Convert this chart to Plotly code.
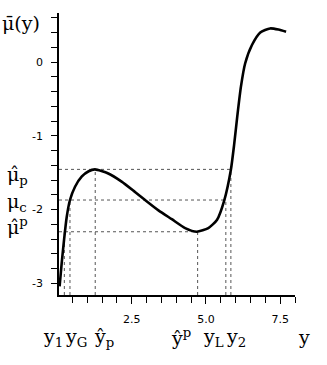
import plotly.graph_objects as go

# curve
curve_x = [0.07, 0.14, 0.22, 0.31, 0.42, 0.59, 0.82, 1.05, 1.26, 1.71, 2.16, 2.61, 2.95,
           3.40, 3.85, 4.30, 4.69, 5.08, 5.37, 5.62, 5.84, 5.95, 6.06, 6.18,
           6.32, 6.55, 6.83, 7.16, 7.44, 7.70]
curve_y = [-3.04, -2.73, -2.41, -2.10, -1.87, -1.69, -1.55, -1.48, -1.455, -1.51, -1.62,
           -1.76, -1.87, -2.01, -2.13, -2.25, -2.30, -2.25, -2.14, -1.87,
           -1.46, -1.12, -0.72, -0.33, -0.02, 0.23, 0.40, 0.455, 0.44, 0.41]

# levels and special y positions
level_names = ["μ̂<sub>p</sub>", "μ<sub>c</sub>", "μ̂<sup>p</sup>"]
level_vals = [-1.455, -1.87, -2.30]
pos_names = ["y<sub>1</sub>", "y<sub>G</sub>", "ŷ<sub>p</sub>", "ŷ<sup>p</sup>", "y<sub>L</sub>", "y<sub>2</sub>"]
pos_vals = [0.23, 0.42, 1.27, 4.72, 5.67, 5.84]
pos_level = [-2.30, -1.87, -1.455, -2.30, -1.87, -1.455]
# horizontal dashes: level -> x end
hline_end = [5.84, 5.67, 4.72]

y_ticks = [0, -1, -2, -3]
y_ticktext = ["0", "-1", "-2", "-3"]
x_ticks = [2.5, 5.0, 7.5]
x_ticktext = ["2.5", "5.0", "7.5"]

XR = [0.05, 8.0]
YR = [-3.157, 0.664]

fig = go.Figure()

hx, hy = [], []
for v, xe in zip(level_vals, hline_end):
    hx += [XR[0], xe, None]
    hy += [v, v, None]
for xv, lv in zip(pos_vals, pos_level):
    hx += [xv, xv, None]
    hy += [YR[0], lv, None]
fig.add_trace(go.Scatter(x=hx, y=hy, mode="lines",
                         line=dict(color="#555555", width=1, dash="3px,3px"),
                         hoverinfo="skip", showlegend=False))

fig.add_trace(go.Scatter(x=curve_x, y=curve_y, mode="lines",
                         line=dict(color="black", width=2.6, shape="spline", smoothing=0.6),
                         showlegend=False))

L, R, T, B = 59, 32, 13, 70
W, H = 327, 365
pw, ph = W - L - R, H - T - B

def px(xp):
    return (xp - L) / pw

def py(yp):
    return (H - B - yp) / ph

serif = dict(family="DejaVu Serif", size=19, color="black")
ann = []
ann.append(dict(text="μ̄(y)", x=px(0), y=py(23), xref="paper", yref="paper",
                xanchor="left", yanchor="middle", showarrow=False, font=serif))
for name, ypix in zip(level_names, [175, 202, 226]):
    ann.append(dict(text=name, x=px(5), y=py(ypix), xref="paper", yref="paper",
                    xanchor="left", yanchor="middle", showarrow=False, font=serif))
for name, xpix in zip(pos_names + ["y"], [41, 63, 92, 169, 201, 224, 296]):
    ann.append(dict(text=name, x=px(xpix), y=py(337), xref="paper", yref="paper",
                    xanchor="left", yanchor="middle", showarrow=False, font=serif))

fig.update_layout(
    width=W, height=H,
    margin=dict(l=L, r=R, t=T, b=B, autoexpand=False),
    paper_bgcolor="white", plot_bgcolor="white",
    annotations=ann,
    font=dict(family="DejaVu Sans", size=11, color="black"),
)
fig.update_xaxes(range=XR, showgrid=False, zeroline=False, showline=True, automargin=False,
                 linecolor="black", linewidth=1.5, ticks="outside", ticklen=7,
                 tickcolor="black", tickwidth=1.2,
                 tickvals=x_ticks, ticktext=x_ticktext, ticklabelstandoff=6,
                 minor=dict(dtick=0.5, tick0=0, ticks="outside", ticklen=6,
                            tickcolor="black", tickwidth=1.2, showgrid=False))
fig.update_yaxes(range=YR, showgrid=False, zeroline=False, showline=True, automargin=False,
                 linecolor="black", linewidth=1.5, ticks="outside", ticklen=6,
                 tickcolor="black", tickwidth=1.2,
                 tickvals=y_ticks, ticktext=y_ticktext, ticklabelstandoff=6,
                 minor=dict(dtick=0.2, tick0=0, ticks="outside", ticklen=6,
                            tickcolor="black", tickwidth=1.2, showgrid=False))

fig.write_html("out.html", config={"displayModeBar": False},
               post_script="document.body.style.margin='0';document.body.style.overflow='hidden';")
